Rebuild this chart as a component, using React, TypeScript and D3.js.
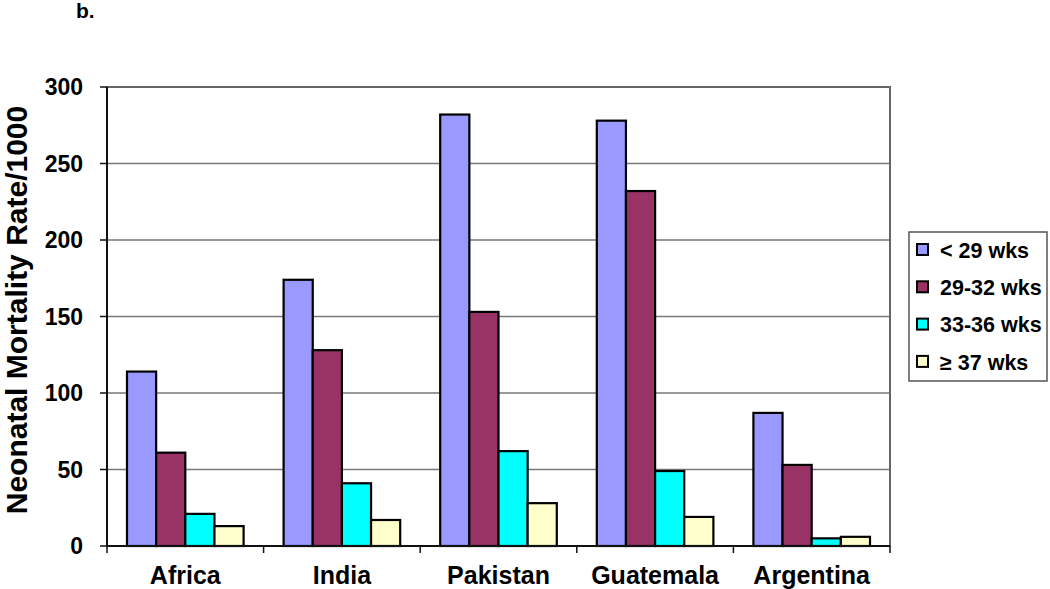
import React, { useEffect, useRef } from 'react';
import * as d3 from 'd3';

const categories = ['Africa', 'India', 'Pakistan', 'Guatemala', 'Argentina'];
const seriesNames = ['< 29 wks', '29-32 wks', '33-36 wks', '\u2265 37 wks'];
const lt29 = [114, 174, 282, 278, 87];
const w29to32 = [61, 128, 153, 232, 53];
const w33to36 = [21, 41, 62, 49, 5];
const ge37 = [13, 17, 28, 19, 6];
const colors = ['#9999FF', '#993366', '#00FFFF', '#FFFFCC'];
const yTicks = [0, 50, 100, 150, 200, 250, 300];

function App() {
  const ref = useRef<SVGSVGElement>(null);
  const width = 1050;
  const height = 589;

  useEffect(() => {
    const svg = d3.select(ref.current);
    svg.selectAll('*').remove();

    const left = 107, right = 890, top = 87, bottom = 546;
    const series = [lt29, w29to32, w33to36, ge37];
    const font = 'Arial, "Liberation Sans", sans-serif';

    const x = d3.scaleBand().domain(categories).range([left, right]).paddingInner(0).paddingOuter(0);
    const inner = d3.scaleBand().domain(seriesNames).range([20, x.bandwidth() - 20]).padding(0);
    const y = d3.scaleLinear().domain([0, 300]).range([bottom, top]);

    // gridlines
    svg.append('g')
      .selectAll('line')
      .data(yTicks.filter(t => t > 0))
      .join('line')
      .attr('x1', left).attr('x2', right)
      .attr('y1', d => y(d)).attr('y2', d => y(d))
      .attr('stroke', '#777').attr('stroke-width', 1.3);

    // frame
    svg.append('rect')
      .attr('x', left).attr('y', top)
      .attr('width', right - left).attr('height', bottom - top)
      .attr('fill', 'none').attr('stroke', '#666').attr('stroke-width', 2);

    // bars
    series.forEach((vals, si) => {
      svg.append('g')
        .selectAll('rect')
        .data(vals)
        .join('rect')
        .attr('x', (d, i) => (x(categories[i]) as number) + (inner(seriesNames[si]) as number))
        .attr('y', d => y(d))
        .attr('width', inner.bandwidth())
        .attr('height', d => bottom - y(d))
        .attr('fill', colors[si])
        .attr('stroke', '#000')
        .attr('stroke-width', 2.2);
    });

    // axes
    svg.append('line').attr('x1', left).attr('x2', left).attr('y1', top).attr('y2', bottom)
      .attr('stroke', '#111').attr('stroke-width', 2);
    svg.append('line').attr('x1', left).attr('x2', right).attr('y1', bottom).attr('y2', bottom)
      .attr('stroke', '#111').attr('stroke-width', 2);

    svg.append('g')
      .selectAll('line')
      .data(yTicks)
      .join('line')
      .attr('x1', left - 7).attr('x2', left)
      .attr('y1', d => y(d)).attr('y2', d => y(d))
      .attr('stroke', '#111').attr('stroke-width', 1.5);

    svg.append('g')
      .selectAll('text')
      .data(yTicks)
      .join('text')
      .attr('x', 83).attr('y', d => y(d))
      .attr('dy', '0.36em')
      .attr('text-anchor', 'end')
      .attr('font-family', font).attr('font-weight', 'bold').attr('font-size', 23)
      .text(d => d);

    const bounds = categories.map(c => x(c) as number).concat([right]);
    svg.append('g')
      .selectAll('line')
      .data(bounds)
      .join('line')
      .attr('x1', d => d).attr('x2', d => d)
      .attr('y1', bottom).attr('y2', bottom + 7)
      .attr('stroke', '#111').attr('stroke-width', 1.5);

    svg.append('g')
      .selectAll('text')
      .data(categories)
      .join('text')
      .attr('x', d => (x(d) as number) + x.bandwidth() / 2)
      .attr('y', 584)
      .attr('text-anchor', 'middle')
      .attr('font-family', font).attr('font-weight', 'bold').attr('font-size', 25)
      .text(d => d);

    svg.append('text')
      .attr('transform', `translate(27, 310) rotate(-90)`)
      .attr('text-anchor', 'middle')
      .attr('font-family', font).attr('font-weight', 'bold').attr('font-size', 30)
      .text('Neonatal Mortality Rate/1000');

    svg.append('text')
      .attr('x', 76).attr('y', 18)
      .attr('font-family', font).attr('font-weight', 'bold').attr('font-size', 21)
      .text('b.');

    // legend
    const lg = svg.append('g');
    lg.append('rect')
      .attr('x', 909).attr('y', 232).attr('width', 138).attr('height', 149)
      .attr('fill', '#fff').attr('stroke', '#555').attr('stroke-width', 1.5);
    seriesNames.forEach((name, i) => {
      const cy = 250 + i * 37.3;
      lg.append('rect')
        .attr('x', 917).attr('y', cy - 6).attr('width', 11).attr('height', 11)
        .attr('fill', colors[i]).attr('stroke', '#000').attr('stroke-width', 2);
      lg.append('text')
        .attr('x', 940).attr('y', cy)
        .attr('dy', '0.36em')
        .attr('font-family', font).attr('font-weight', 'bold').attr('font-size', 21.5)
        .text(name);
    });
  }, []);

  return (
    <svg ref={ref} width={width} height={height} style={{ position: 'absolute', left: 0, top: 0 }} />
  );
}

export default App;
